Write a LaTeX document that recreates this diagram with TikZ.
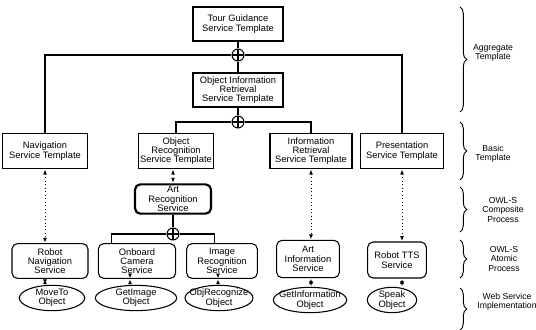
\documentclass[tikz,border=0pt]{standalone}
\usepackage{fontspec}
\setmainfont{Liberation Sans}
\usetikzlibrary{arrows.meta,calc,shapes.geometric,decorations.pathreplacing}
\begin{document}
\begin{tikzpicture}[x=0.75pt, y=-0.75pt,
    tmplbox/.style={draw, line width=1.1pt, align=center, inner sep=1pt,
        minimum height=26pt, font=\fontsize{7}{7}\selectfont},
    aggbox/.style={tmplbox, line width=1.6pt},
    procbox/.style={draw, rounded corners=4pt, line width=0.8pt, align=center,
        inner sep=1pt, minimum height=26pt, font=\fontsize{7}{7}\selectfont},
    compbox/.style={procbox, line width=1.6pt, minimum height=22pt},
    wsnode/.style={ellipse, draw, line width=0.8pt, align=center, inner xsep=-4pt,
        inner ysep=-1pt, minimum height=19pt, font=\fontsize{7}{7}\selectfont},
    orjoin/.style={circle, draw, line width=0.8pt, minimum size=9pt, inner sep=0pt,
        path picture={\draw (path picture bounding box.north) -- (path picture bounding box.south)
            (path picture bounding box.west) -- (path picture bounding box.east);}},
    tree/.style={line width=0.8pt},
    dotlink/.style={dotted, line width=0.6pt,
        {Latex[length=3.5pt,width=3pt,sep=0.5pt]}-{Latex[length=3.5pt,width=3pt,sep=0.5pt]}},
    sidebrace/.style={decorate, decoration={brace, amplitude=5pt}, line width=0.7pt},
    sidelabel/.style={align=center, font=\fontsize{6.5}{7}\selectfont}]
    \useasboundingbox (0,0) rectangle (536,329);

    \node[aggbox, minimum width=67.5pt] (tour) at (238,24) {Tour Guidance\\Service Template};
    \node[orjoin] (or1) at (238,55) {};
    \node[aggbox, minimum width=67.5pt, minimum height=25.5pt] (oir) at (238,90)
        {Object Information\\Retrieval\\Service Template};
    \node[orjoin] (or2) at (238,122) {};

    \node[tmplbox, minimum width=64pt] (nav) at (45,151) {Navigation\\Service Template};
    \node[tmplbox, minimum width=56pt] (objrec) at (176,151) {Object\\Recognition\\Service Template};
    \node[tmplbox, minimum width=61.5pt] (inforet) at (311,151) {Information\\Retrieval\\Service Template};
    \node[tmplbox, minimum width=62pt] (pres) at (402,151) {Presentation\\Service Template};

    \node[compbox, minimum width=57pt] (artrec) at (173,199) {Art\\Recognition\\Service};
    \node[orjoin] (or3) at (173,234) {};

    \node[procbox, minimum width=57pt] (robnav) at (50,261) {Robot\\Navigation\\Service};
    \node[procbox, minimum width=58pt] (cam) at (137,261) {Onboard\\Camera\\Service};
    \node[procbox, minimum width=53pt] (imgrec) at (222,261) {Image\\Recognition\\Service};
    \node[procbox, minimum width=47pt, minimum height=28pt] (artinfo) at (308,259) {Art\\Information\\Service};
    \node[procbox, minimum width=44pt, minimum height=27pt] (tts) at (397,260) {Robot TTS\\Service};

    \node[wsnode, minimum width=49pt] (moveto) at (52,298) {MoveTo\\Object};
    \node[wsnode, minimum width=61pt] (getimg) at (136,298) {GetImage\\Object};
    \node[wsnode, minimum width=51pt] (objrecog) at (219,298) {ObjRecognize\\Object};
    \node[wsnode, minimum width=55pt] (getinfo) at (310,300) {GetInformation\\Object};
    \node[wsnode, minimum width=37pt] (speak) at (392,300) {Speak\\Object};

    \draw[tree] (tour) -- (or1) -- (oir);
    \draw[tree, line width=1.2pt] (nav.north) |- (or1.west) (or1.east) -| (pres.north);
    \draw[tree] (oir) -- (or2);
    \draw[tree] (objrec.north) |- (or2.west) (or2.east) -| (inforet.north);
    \draw[tree] (artrec) -- (or3);
    \draw[tree] ($(cam.north west)+(14,0)$) |- (or3.west)
        (or3.east) -| ($(imgrec.north west)+(28,0)$);

    \draw[dotlink] (nav.south) -- (nav.south |- robnav.north);
    \draw[dotlink] (artrec.north) -- (artrec.north |- objrec.south);
    \draw[dotlink] (inforet.south) -- (inforet.south |- artinfo.north);
    \draw[dotlink] (pres.south) -- (pres.south |- tts.north);
    \draw[dotlink] (nav.south |- robnav.south) -- (nav.south |- moveto.north);
    \draw[dotlink] ($(cam.south)+(-7,0)$) -- ($(cam.south)+(-7,0)$ |- getimg.north);
    \draw[dotlink] ($(imgrec.south)+(-4,0)$) -- ($(imgrec.south)+(-4,0)$ |- objrecog.north);
    \draw[dotlink] (artinfo.south -| inforet.south) -- (inforet.south |- getinfo.north);
    \draw[dotlink] (tts.south -| pres.south) -- (pres.south |- speak.north);

    \draw[sidebrace] (460,7) -- (460,112);
    \node[sidelabel] (agglbl) at (493,53) {Aggregate\\Template};
    \draw[sidebrace] (460,122) -- (460,180);
    \node[sidelabel] (basiclbl) at (493,154) {Basic\\Template};
    \draw[sidebrace] (460,187) -- (460,232);
    \node[sidelabel] (complbl) at (503,210) {OWL-S\\Composite\\Process};
    \draw[sidebrace] (460,240) -- (460,278);
    \node[sidelabel] (atomlbl) at (504,259) {OWL-S\\Atomic\\Process};
    \draw[sidebrace] (460,288) -- (460,330);
    \node[sidelabel] (wslbl) at (507,302) {Web Service\\Implementation};
\end{tikzpicture}
\end{document}
